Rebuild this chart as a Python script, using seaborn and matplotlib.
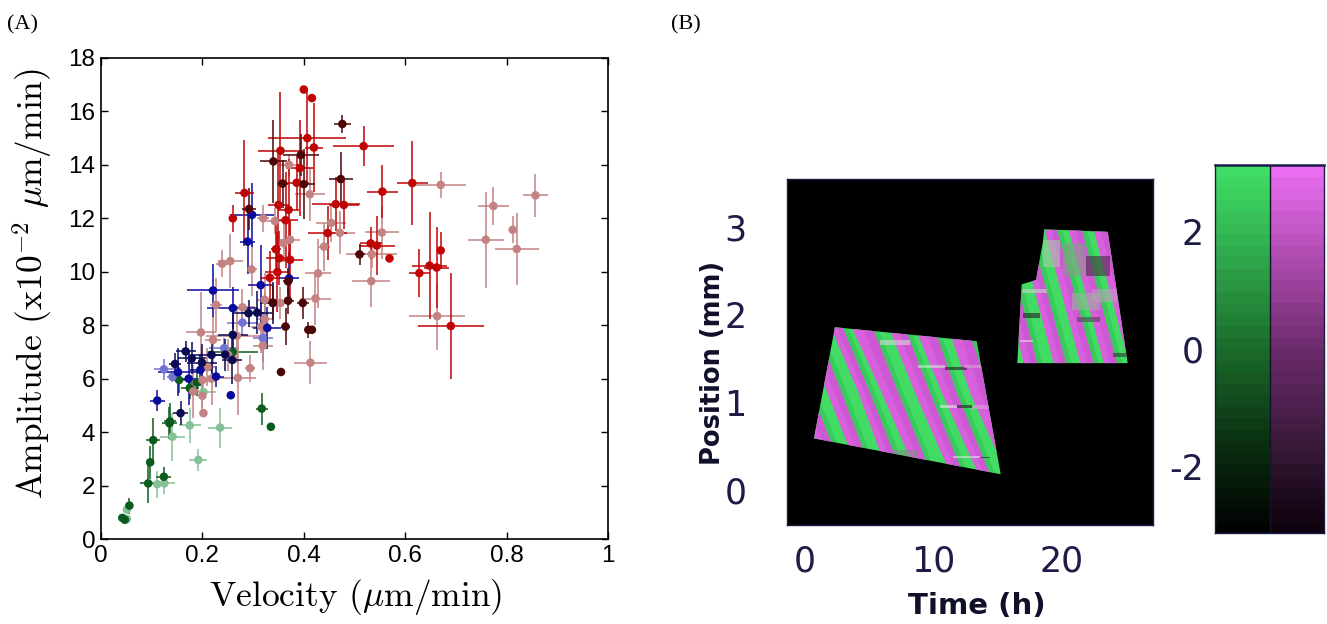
import numpy as np
import pandas as pd
import matplotlib
matplotlib.use('Agg')
import matplotlib.pyplot as plt
import seaborn as sns
from matplotlib.colors import LinearSegmentedColormap
from matplotlib.patches import Polygon, Rectangle

# Panel A : velocity, amplitude and their errors for each group
dgreen_x = [0.042, 0.047, 0.056, 0.093, 0.097, 0.103, 0.124, 0.135, 0.136, 0.154, 0.189, 0.175, 0.26, 0.317, 0.335]
dgreen_y = [0.79, 0.72, 1.25, 2.08, 2.87, 3.7, 2.33, 4.33, 4.4, 5.95, 5.85, 5.65, 7.0, 4.88, 4.2]
dgreen_xe = [0, 0, 0.008, 0.017, 0.008, 0.014, 0.015, 0.015, 0.012, 0.012, 0.012, 0.018, 0.05, 0.012, 0]
dgreen_ye = [0, 0, 0.3, 0.72, 0.62, 0.84, 0.35, 0.6, 0.7, 0.5, 0.5, 0.4, 0.2, 0.6, 0]

lgreen_x = [0.051, 0.051, 0.111, 0.125, 0.141, 0.175, 0.235, 0.192, 0.202]
lgreen_y = [1.1, 0.75, 2.05, 2.08, 3.83, 4.25, 4.17, 2.96, 5.5]
lgreen_xe = [0, 0, 0.02, 0.02, 0.025, 0.022, 0.023, 0.018, 0.025]
lgreen_ye = [0, 0, 0.5, 0.4, 0.9, 0.65, 0.75, 0.4, 0.3]

blue_x = [0.298, 0.289, 0.221, 0.315, 0.371, 0.26, 0.328, 0.111, 0.152, 0.173, 0.227, 0.256, 0.196]
blue_y = [12.13, 11.13, 9.3, 9.5, 9.75, 8.64, 7.9, 5.18, 6.24, 6.0, 6.08, 5.38, 6.33]
blue_xe = [0.044, 0.015, 0.051, 0.025, 0.02, 0.05, 0.028, 0.015, 0.04, 0.03, 0.015, 0, 0.02]
blue_ye = [1.2, 1.2, 1.0, 1.5, 1.0, 0.8, 0.8, 0.4, 0.9, 1.0, 0.4, 0, 0.6]

lblue_x = [0.124, 0.141, 0.243, 0.279, 0.319]
lblue_y = [6.35, 6.07, 7.14, 8.1, 7.52]
lblue_xe = [0.02, 0.01, 0.03, 0.03, 0.02]
lblue_ye = [0.4, 0.2, 0.4, 0.5, 0.9]

navy_x = [0.146, 0.167, 0.179, 0.199, 0.218, 0.157, 0.259, 0.245, 0.291, 0.308, 0.339, 0.26]
navy_y = [6.55, 7.02, 6.76, 6.6, 6.89, 4.71, 6.7, 6.9, 8.45, 8.47, 8.83, 7.64]
navy_xe = [0.012, 0.02, 0.028, 0.03, 0.04, 0.015, 0.02, 0.02, 0.03, 0.03, 0.025, 0.03]
navy_ye = [0.4, 0.4, 0.6, 0.7, 0.7, 0.45, 0.9, 0.6, 0.5, 0.8, 0.8, 0.9]

pink_x = [0.67, 0.774, 0.857, 0.812, 0.759, 0.82, 0.554, 0.533, 0.534, 0.663, 0.371, 0.412, 0.32, 0.343, 0.454,
          0.471, 0.44, 0.373, 0.36, 0.239, 0.255, 0.297, 0.428, 0.423, 0.227, 0.279, 0.323, 0.354, 0.323, 0.316,
          0.197, 0.221, 0.268, 0.251, 0.319, 0.21, 0.294, 0.2, 0.218, 0.27, 0.182, 0.2, 0.202, 0.413]
pink_y = [13.25, 12.46, 12.86, 11.57, 11.2, 10.85, 11.47, 9.65, 10.66, 8.34, 14.0, 12.9, 12.0, 11.9, 11.83,
          11.46, 10.94, 11.2, 11.07, 10.3, 10.4, 10.09, 9.94, 9.0, 8.76, 8.67, 8.95, 8.83, 8.23, 7.95,
          7.73, 7.45, 7.6, 6.89, 7.23, 6.43, 6.39, 5.95, 6.0, 6.03, 5.52, 5.36, 4.71, 6.6]
pink_xe = [0.05, 0.03, 0.025, 0.005, 0.035, 0.043, 0.033, 0.037, 0.05, 0.055, 0.02, 0.03, 0.012, 0.015, 0.03,
           0.03, 0.012, 0.02, 0.015, 0.012, 0.025, 0.01, 0.025, 0.03, 0.012, 0.025, 0.015, 0.01, 0.018, 0.02,
           0.03, 0.015, 0.06, 0.015, 0.02, 0.015, 0.01, 0.015, 0.012, 0.035, 0.012, 0.006, 0, 0.032]
pink_ye = [0.5, 0.7, 0.8, 0.5, 1.8, 1.35, 1.0, 0.95, 0.5, 1.25, 0.4, 1.0, 0.5, 0.5, 0.7,
           0.8, 0.9, 0.7, 0.7, 0.5, 1.0, 1.0, 1.3, 1.0, 1.0, 0.7, 1.0, 0.6, 1.0, 1.0,
           1.5, 0.9, 1.0, 0.6, 0.9, 0.7, 0.5, 1.0, 1.0, 1.4, 1.0, 0.5, 0, 0.8]

red_x = [0.4, 0.416, 0.407, 0.42, 0.354, 0.392, 0.386, 0.283, 0.35, 0.37, 0.26, 0.364, 0.463, 0.479, 0.447,
         0.345, 0.352, 0.373, 0.348, 0.333, 0.518, 0.614, 0.555, 0.532, 0.544, 0.569, 0.67, 0.648, 0.662, 0.628, 0.69]
red_y = [16.82, 16.5, 15.0, 14.65, 14.53, 13.88, 13.33, 12.95, 12.5, 12.32, 12.0, 11.93, 12.53, 12.5, 11.45,
         10.84, 10.51, 10.45, 9.99, 9.78, 14.7, 13.32, 13.0, 11.06, 10.98, 10.5, 10.8, 10.23, 10.16, 9.95, 7.97]
red_xe = [0, 0, 0.077, 0.017, 0.045, 0.027, 0.025, 0.018, 0.02, 0.02, 0.006, 0.025, 0.047, 0.03, 0.038,
          0.01, 0.027, 0.025, 0.025, 0.02, 0.06, 0.031, 0.03, 0.022, 0.035, 0, 0.004, 0.035, 0.025, 0.02, 0.065]
red_ye = [0, 0, 1.8, 1.65, 2.2, 1.8, 1.0, 2.0, 1.9, 1.9, 0.5, 1.8, 1.0, 0.9, 1.0,
          1.0, 1.0, 1.5, 1.5, 1.0, 0.75, 1.57, 1.0, 0.6, 1.1, 0, 0.7, 2.0, 1.5, 0.9, 2.0]

maroon_x = [0.476, 0.34, 0.394, 0.473, 0.358, 0.4, 0.292, 0.51, 0.369, 0.339, 0.369, 0.398, 0.364, 0.409, 0.416, 0.355]
maroon_y = [15.53, 14.13, 14.37, 13.47, 13.3, 13.28, 12.35, 10.65, 9.64, 8.85, 8.92, 8.83, 7.95, 7.83, 7.83, 6.25]
maroon_xe = [0.017, 0.027, 0.035, 0.024, 0.01, 0.022, 0.014, 0.01, 0.01, 0.01, 0.012, 0.012, 0.008, 0.006, 0, 0]
maroon_ye = [0.35, 1.55, 0.8, 1.0, 0.9, 1.3, 0.8, 0.4, 0.5, 0.6, 0.5, 0.6, 0.7, 0.3, 0, 0]

group_names = ['lgreen', 'dgreen', 'lblue', 'pink', 'blue', 'navy', 'red', 'maroon']
group_colors = ['#84c196', '#0b5c1c', '#7373d2', '#c48383', '#0a0a9c', '#0a0a52', '#c00404', '#4c0606']

# Panel B : position of the green/magenta boundaries (time in h) at three positions (mm)
patch1_pos = [1.905, 1.105, 0.19]
patch1_bounds = [[-2.93, -0.78, 1.63], [-1.63, 0.52, 2.98], [-0.47, 1.74, 4.18], [0.70, 2.85, 5.21],
                 [1.87, 4.15, 6.43], [2.78, 5.06, 7.52], [3.48, 5.97, 8.64], [5.11, 7.26, 9.81],
                 [6.36, 8.56, 11.28], [7.63, 9.73, 12.27], [8.40, 10.64, 13.44], [9.91, 11.80, 14.35],
                 [11.0, 12.84, 15.64], [12.5, 14.4, 16.8]]
patch1_outline = [[2.33, 1.86], [13.36, 1.70], [15.23, 0.18], [0.70, 0.59]]

patch2_pos = [2.97, 2.21, 1.45]
patch2_bounds = [[14.40, 15.69, 16.99], [15.43, 16.73, 18.03], [16.60, 17.95, 19.33], [17.51, 18.88, 20.29],
                 [18.63, 20.00, 21.40], [19.59, 21.01, 22.44], [20.49, 21.87, 23.22], [21.53, 22.88, 24.25],
                 [22.44, 23.81, 25.16], [23.55, 24.82, 26.07]]
patch2_outline = [[18.62, 2.98], [23.56, 2.95], [25.11, 1.45], [16.52, 1.45], [16.86, 2.35],
                  [17.98, 2.40], [18.16, 2.55], [18.5, 2.82]]

# patches of noisy phase: t0, t1, p0, p1, colour
patch1_noise = [(5.84, 8.17, 1.657, 1.714, '#d8d8d8'), (8.82, 10.9, 1.39, 1.43, '#cfe8cf'),
                (10.9, 12.6, 1.37, 1.40, '#202020'), (12.4, 13.8, 1.39, 1.43, '#dba0db'),
                (10.5, 11.8, 0.934, 0.97, '#e4e4e4'), (11.8, 13.0, 0.94, 0.97, '#202020'),
                (13.0, 14.4, 0.92, 0.97, '#dba0db'), (6.9, 8.7, 0.38, 0.457, '#8a8a8a'),
                (11.5, 13.6, 0.37, 0.39, '#e0e0e0'), (13.6, 14.4, 0.36, 0.38, '#202020')]
patch2_noise = [(18.55, 19.84, 2.55, 2.857, '#a8c8a8'), (20.1, 21.9, 2.44, 2.82, '#8a9a8a'),
                (21.9, 23.7, 2.44, 2.67, '#4a2a44'), (22.3, 24.25, 2.15, 2.30, '#c79ac7'),
                (16.86, 18.8, 2.25, 2.30, '#c8d8c8'), (20.75, 22.96, 2.06, 2.25, '#a0b0a0'),
                (16.99, 18.3, 1.97, 2.02, '#2a1a2a'), (21.14, 22.96, 1.92, 1.98, '#5a3a5a'),
                (16.73, 17.77, 1.69, 1.71, '#e0e0e0'), (24.0, 25.0, 1.52, 1.56, '#303030')]

# colour scale of panel B
green_stops = ['#000000', '#0a3010', '#1a6a2a', '#2fa84c', '#40e066']
magenta_stops = ['#0c000c', '#3a1a3a', '#6b2a6b', '#b04bb0', '#ec70f4']

df = pd.concat([
    pd.DataFrame({'v': lgreen_x, 'a': lgreen_y, 'xe': lgreen_xe, 'ye': lgreen_ye, 'group': 'lgreen'}),
    pd.DataFrame({'v': dgreen_x, 'a': dgreen_y, 'xe': dgreen_xe, 'ye': dgreen_ye, 'group': 'dgreen'}),
    pd.DataFrame({'v': lblue_x, 'a': lblue_y, 'xe': lblue_xe, 'ye': lblue_ye, 'group': 'lblue'}),
    pd.DataFrame({'v': pink_x, 'a': pink_y, 'xe': pink_xe, 'ye': pink_ye, 'group': 'pink'}),
    pd.DataFrame({'v': blue_x, 'a': blue_y, 'xe': blue_xe, 'ye': blue_ye, 'group': 'blue'}),
    pd.DataFrame({'v': navy_x, 'a': navy_y, 'xe': navy_xe, 'ye': navy_ye, 'group': 'navy'}),
    pd.DataFrame({'v': red_x, 'a': red_y, 'xe': red_xe, 'ye': red_ye, 'group': 'red'}),
    pd.DataFrame({'v': maroon_x, 'a': maroon_y, 'xe': maroon_xe, 'ye': maroon_ye, 'group': 'maroon'}),
], ignore_index=True)

sns.set_theme(style='ticks')
plt.rcParams['font.family'] = ['Liberation Sans', 'DejaVu Sans']
plt.rcParams['mathtext.fontset'] = 'cm'

W, H = 1327, 624
fig = plt.figure(figsize=(W / 100, H / 100), dpi=100)


def px_axes(left, top, right, bottom):
    return fig.add_axes([left / W, 1 - bottom / H, (right - left) / W, (bottom - top) / H])


# Panel A
ax = px_axes(101, 58, 608, 539)
for name, color in zip(group_names, group_colors):
    sub = df[df['group'] == name]
    ax.errorbar(sub['v'], sub['a'], xerr=sub['xe'], yerr=sub['ye'], fmt='none', ecolor=color, elinewidth=1.1)
sns.scatterplot(data=df, x='v', y='a', hue='group', hue_order=group_names, palette=group_colors,
                s=38, linewidth=0, legend=False, ax=ax, zorder=3)
ax.set_xlim(0, 1)
ax.set_ylim(0, 18)
ax.set_xticks([0, 0.2, 0.4, 0.6, 0.8, 1])
ax.set_xticklabels(['0', '0.2', '0.4', '0.6', '0.8', '1'])
ax.set_yticks(range(0, 19, 2))
ax.tick_params(direction='in', top=True, right=True, length=5, width=1.0, labelsize=17.5, colors='black', pad=4)
for s in ax.spines.values():
    s.set_linewidth(1.2)
    s.set_color('black')
    s.set_visible(True)
ax.set_xlabel(r'Velocity ($\mu$m/min)', fontfamily='cmr10', fontsize=25.5, color='black')
ax.xaxis.set_label_coords(0.502, -0.078)
ax.set_ylabel(r'Amplitude (x10$^{-2}$ $\mu$m/min)', fontfamily='cmr10', fontsize=25.5, color='black')
ax.yaxis.set_label_coords(-0.092, 0.532)

# Panel B
NAVY = '#1c1c46'
MAGENTA = '#d860dc'
MAGENTA_DARK = '#a03cb0'
GREEN = '#42dc64'
GREEN_DARK = '#1e9a42'
bx = px_axes(787, 179, 1153, 525)
bx.set_facecolor('black')
for outline, pos, bounds, noise in [(patch1_outline, patch1_pos, patch1_bounds, patch1_noise),
                                    (patch2_outline, patch2_pos, patch2_bounds, patch2_noise)]:
    shape = Polygon(outline, closed=True, facecolor=GREEN, edgecolor='none', transform=bx.transData)
    bx.add_patch(shape)
    for i in range(0, len(bounds), 2):
        left, right = bounds[i], bounds[i + 1]
        band = bx.fill_betweenx(pos, left, right, color=MAGENTA, linewidth=0)
        band.set_clip_path(shape)
        # each stripe darkens a little towards its right side
        shade = bx.fill_betweenx(pos, [(a + b) / 2 for a, b in zip(left, right)], right,
                                 color=MAGENTA_DARK, linewidth=0, alpha=0.2)
        shade.set_clip_path(shape)
        shade = bx.fill_betweenx(pos, right, [r + 0.4 for r in right], color=GREEN_DARK, linewidth=0, alpha=0.25)
        shade.set_clip_path(shape)
    for t0, t1, p0, p1, c in noise:
        r = Rectangle((t0, p0), t1 - t0, p1 - p0, facecolor=c, edgecolor='none', alpha=0.6)
        bx.add_patch(r)
        r.set_clip_path(shape)
bx.set_xlim(-1.4, 27.08)
bx.set_ylim(-0.4, 3.554)
bx.set_xticks([0, 10, 20])
bx.set_yticks([0, 1, 2, 3])
bx.tick_params(length=0, labelsize=25, labelcolor=NAVY)
bx.tick_params(axis='y', pad=29)
bx.tick_params(axis='x', pad=14)
for lab in bx.get_xticklabels() + bx.get_yticklabels():
    lab.set_fontfamily('DejaVu Sans')
for s in bx.spines.values():
    s.set_color(NAVY)
    s.set_linewidth(1.0)
bx.set_xlabel('Time (h)', fontfamily='DejaVu Sans', fontweight='bold', fontsize=21, color='#10102a')
bx.xaxis.set_label_coords(0.519, -0.195)
bx.set_ylabel('Position (mm)', fontfamily='DejaVu Sans', fontweight='bold', fontsize=18.5, color='#10102a')
bx.yaxis.set_label_coords(-0.168, 0.469)

# colour scale
cx = px_axes(1215, 165, 1324, 533)
edges = np.linspace(-np.pi, np.pi, 33)
levels = (edges[:-1] + edges[1:]).reshape(-1, 1) / 2
cmap_g = LinearSegmentedColormap.from_list('g', green_stops)
cmap_m = LinearSegmentedColormap.from_list('m', magenta_stops)
cx.pcolormesh([0, 1], edges, levels, cmap=cmap_g, vmin=-np.pi, vmax=np.pi)
cx.pcolormesh([1, 2], edges, levels, cmap=cmap_m, vmin=-np.pi, vmax=np.pi)
cx.axvline(1, color='#141428', lw=1.0)
cx.set_xlim(0, 2)
cx.set_ylim(-np.pi, np.pi)
cx.set_xticks([])
cx.set_yticks([-2, 0, 2])
cx.set_yticklabels(['-2', '0', '2'], fontfamily='DejaVu Sans')
cx.tick_params(axis='y', direction='in', length=3, width=0.8, color='#141428', labelsize=25, labelcolor=NAVY, pad=8)
for s in cx.spines.values():
    s.set_color(NAVY)
    s.set_linewidth(1.0)
cx.spines['top'].set_linewidth(1.8)

fig.text(7 / W, 1 - 25 / H, '(A)', fontfamily='Liberation Serif', fontsize=16, color='black', va='center')
fig.text(671 / W, 1 - 25 / H, '(B)', fontfamily='Liberation Serif', fontsize=16, color='black', va='center')

fig.savefig('out.png', dpi=100)
